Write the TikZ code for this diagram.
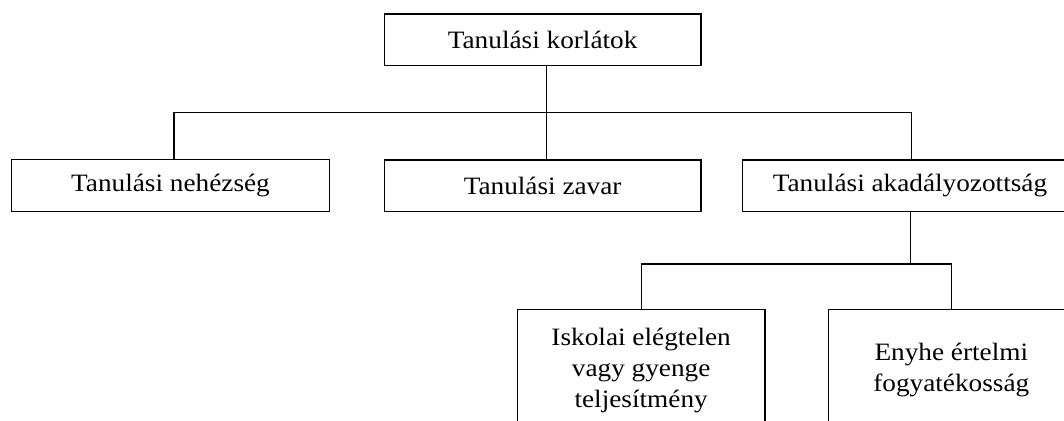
\documentclass[tikz,border=0pt]{standalone}
\usepackage{fontspec}
\setmainfont{Liberation Serif}[FakeStretch=1.09]
\begin{document}
\begin{tikzpicture}[x=1pt,y=-1pt,
  box/.style={draw, line width=1.3pt, inner sep=0pt, align=center,
    font=\fontsize{25}{31}\selectfont},
  conn/.style={line width=1.3pt}]
\useasboundingbox (0,0) rectangle (1064,420);
\clip (0,0) rectangle (1064,420);
\node[box, minimum width=316.7pt, minimum height=51.3pt] (top) at (542.65,39.65) {Tanulási korlátok};
\node[box, minimum width=317.6pt, minimum height=52pt] (n1) at (170.5,185.3) {Tanulási nehézség};
\node[box, minimum width=316.7pt, minimum height=51.3pt] (n2) at (542.65,185.6) {Tanulási zavar};
\node[box, minimum width=335.2pt, minimum height=51.3pt] (n3) at (910,185.6) {Tanulási akadályozottság};
\node[box, minimum width=247.7pt, minimum height=122pt] (m1) at (641.15,370.3) {Iskolai elégtelen\\vagy gyenge\\teljesítmény};
\node[box, minimum width=246pt, minimum height=122pt] (m2) at (951.3,370.3) {Enyhe értelmi\\fogyatékosság};
\coordinate (j1) at (546.7,112.7);
\coordinate (b1) at (174,112.7);
\coordinate (b3) at (911.7,112.7);
\coordinate (j2) at (910.7,264);
\coordinate (c1) at (641.7,264);
\coordinate (c2) at (951.7,264);
\draw[conn] (top.south -| j1) -- (n2.north -| j1);
\draw[conn] (n1.north -| b1) -- (b1) -- (b3) -- (n3.north -| b3);
\draw[conn] (n3.south -| j2) -- (j2);
\draw[conn] (m1.north -| c1) -- (c1) -- (c2) -- (m2.north -| c2);
\end{tikzpicture}
\end{document}
